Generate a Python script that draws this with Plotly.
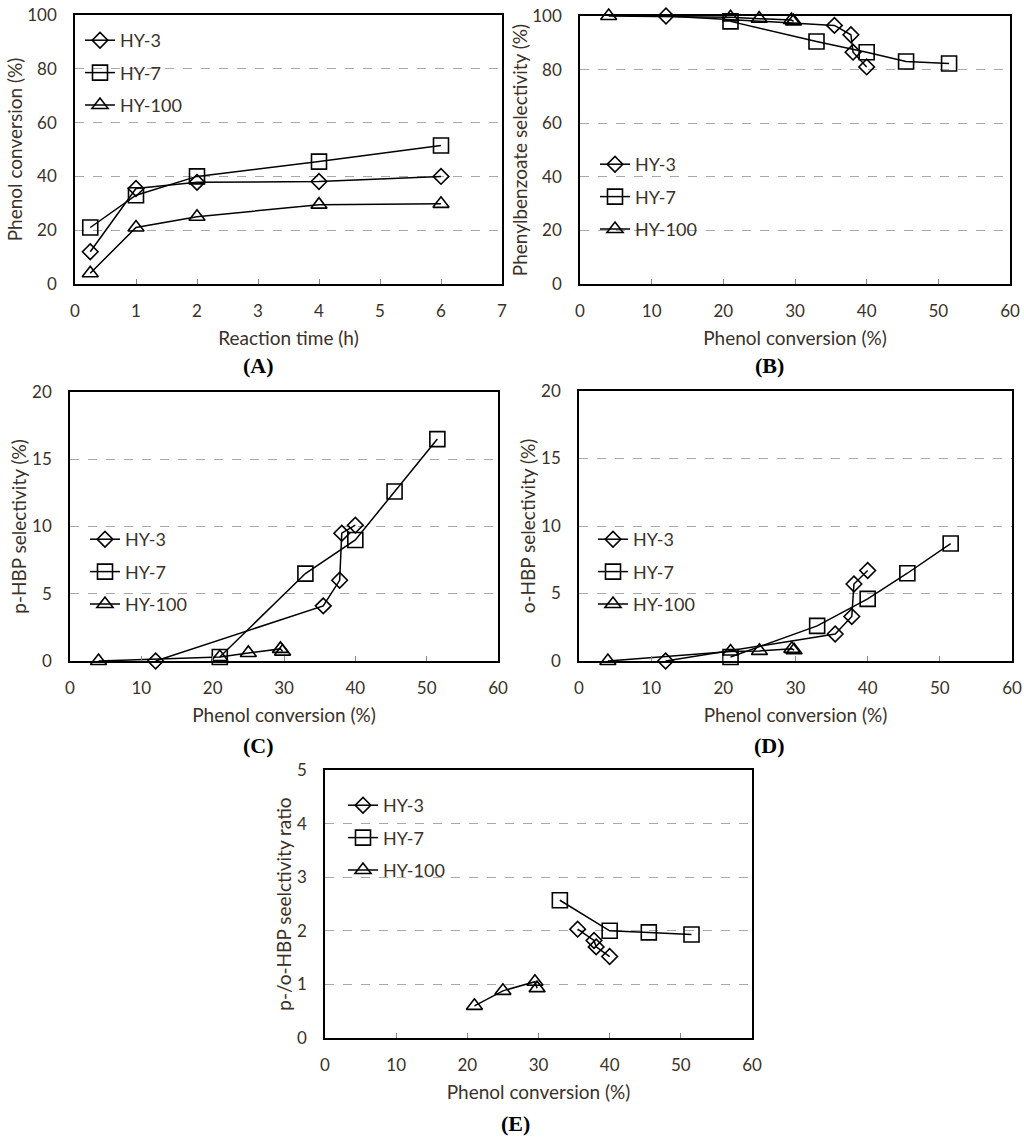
import plotly.graph_objects as go

# Reaction time (h) and phenol conversion (%) for each catalyst.
time_h = [0.25, 1, 2, 4, 6]
conv_hy3 = [12, 35.5, 37.8, 38.1, 40]
conv_hy7 = [21, 33, 40, 45.5, 51.5]
conv_hy100 = [4, 21, 25, 29.5, 29.8]

# Phenylbenzoate selectivity (%).
pb_hy3 = [100, 96.5, 93, 86.5, 81]
pb_hy7 = [98, 90.5, 86.5, 83, 82.3]
pb_hy100 = [100, 99.5, 99, 98.5, 98]

# p-HBP selectivity (%).
phbp_hy3 = [0, 4.1, 6.0, 9.5, 10.1]
phbp_hy7 = [0.3, 6.5, 9.0, 12.6, 16.5]
phbp_hy100 = [0, 0.3, 0.6, 0.9, 0.7]

# o-HBP selectivity (%).
ohbp_hy3 = [0, 2.0, 3.3, 5.7, 6.7]
ohbp_hy7 = [0.3, 2.6, 4.6, 6.5, 8.7]
ohbp_hy100 = [0, 0.7, 0.75, 0.9, 0.8]

# p-/o-HBP ratio (points with measurable o-HBP only).
ratio_x_hy3 = [35.5, 37.8, 38.1, 40]
ratio_hy3 = [2.03, 1.82, 1.70, 1.52]
ratio_x_hy7 = [33, 40, 45.5, 51.5]
ratio_hy7 = [2.57, 2.0, 1.97, 1.93]
ratio_x_hy100 = [21, 25, 29.5, 29.8]
ratio_hy100 = [0.6, 0.88, 1.05, 0.93]

names = ["HY-3", "HY-7", "HY-100"]
symbols = ["diamond-open", "square-open", "triangle-up-open"]
sizes = [12, 15, 14]

text_color = "#3b3128"
font_family = "Lato"

panels = [
    # (x data, y data, y title, x title, x range, x step, y range, y step, label)
    ([time_h] * 3, [conv_hy3, conv_hy7, conv_hy100], "Phenol conversion (%)",
     "Reaction time (h)", [0, 7], 1, [0, 100], 20, "(A)"),
    ([conv_hy3, conv_hy7, conv_hy100], [pb_hy3, pb_hy7, pb_hy100],
     "Phenylbenzoate selectivity (%)", "Phenol conversion (%)", [0, 60], 10, [0, 100], 20, "(B)"),
    ([conv_hy3, conv_hy7, conv_hy100], [phbp_hy3, phbp_hy7, phbp_hy100],
     "p-HBP selectivity (%)", "Phenol conversion (%)", [0, 60], 10, [0, 20], 5, "(C)"),
    ([conv_hy3, conv_hy7, conv_hy100], [ohbp_hy3, ohbp_hy7, ohbp_hy100],
     "o-HBP selectivity (%)", "Phenol conversion (%)", [0, 60], 10, [0, 20], 5, "(D)"),
    ([ratio_x_hy3, ratio_x_hy7, ratio_x_hy100], [ratio_hy3, ratio_hy7, ratio_hy100],
     "p-/o-HBP seelctivity ratio", "Phenol conversion (%)", [0, 60], 10, [0, 5], 1, "(E)"),
]

# The page body margin is removed (see write_html), so screen pixels = figure pixels.
W, H = 1024, 1143

# Plot areas in pixels: (left, right, top, bottom), legend top-left, label centre.
boxes = [(75, 502, 15, 284), (580, 1010, 16, 284), (70, 498, 392, 661),
         (579, 1012, 391, 661), (325, 752, 770, 1038)]
legend_pos = [(80, 22), (595, 146), (85, 521), (593, 521), (343, 787)]
label_pos = [(258, 365), (769, 365), (258, 745), (769, 745), (515, 1123)]


def px(v):
    return v / W


def py(v):
    return 1 - v / H


fig = go.Figure()
layout = {}

for i, (xs, ys, ytitle, xtitle, xr, xd, yr, yd, label) in enumerate(panels):
    n = "" if i == 0 else str(i + 1)
    leg = "legend" if i == 0 else f"legend{i + 1}"
    for j in range(3):
        fig.add_trace(go.Scatter(
            x=xs[j], y=ys[j], name=names[j], mode="lines+markers",
            xaxis="x" + n, yaxis="y" + n, legend=leg,
            legendgroup=f"{label}{names[j]}",
            line=dict(color="black", width=1.5),
            marker=dict(symbol=symbols[j], size=sizes[j], color="black",
                        line=dict(width=1.6)),
            cliponaxis=False,
        ))

    left, right, top, bottom = boxes[i]
    layout["xaxis" + n] = dict(
        domain=[px(left), px(right)], anchor="y" + n, range=xr, dtick=xd,
        automargin=False, ticklabeloverflow="allow",
        showgrid=False, zeroline=False, showline=True, mirror=True,
        linecolor="black", linewidth=1.5, ticks="inside", ticklen=5,
        tickcolor="#888", ticklabelstandoff=11,
        tickfont=dict(size=17, color=text_color, family=font_family),
        title=dict(text=xtitle, standoff=12,
                   font=dict(size=19, color=text_color, family=font_family)),
    )
    layout["yaxis" + n] = dict(
        domain=[py(bottom), py(top)], anchor="x" + n, range=yr, dtick=yd,
        automargin=False, ticklabeloverflow="allow",
        showgrid=True, gridcolor="#a8a8a8", griddash="dash", gridwidth=1,
        zeroline=False, showline=True, mirror=True, linecolor="black",
        linewidth=1.5, ticks="", ticklabelstandoff=13,
        tickfont=dict(size=17, color=text_color, family=font_family),
        title=dict(text=ytitle, standoff=0,
                   font=dict(size=19, color=text_color, family=font_family)),
    )
    lx, ly = legend_pos[i]
    layout[leg] = dict(
        x=px(lx), y=py(ly), xanchor="left", yanchor="top",
        bgcolor="rgba(0,0,0,0)", traceorder="grouped", tracegroupgap=6,
        itemwidth=30, font=dict(size=18, color=text_color, family=font_family),
    )
    cx, cy = label_pos[i]
    fig.add_annotation(
        x=px(cx), y=py(cy), xref="paper", yref="paper", text=f"<b>{label}</b>",
        xanchor="center", yanchor="middle", showarrow=False,
        font=dict(size=22, color="black", family="Liberation Serif"),
    )

fig.update_layout(
    width=W, height=H, margin=dict(l=0, r=0, t=0, b=0, autoexpand=False),
    paper_bgcolor="white", plot_bgcolor="white", showlegend=True,
    **layout,
)

# Drop the browser's default 8 px body margin so the figure fills the window,
# and hide the modebar so it does not cover panel B.
fig.write_html(
    "out.html",
    config={"displayModeBar": False},
    post_script="document.body.style.margin = '0';",
)
